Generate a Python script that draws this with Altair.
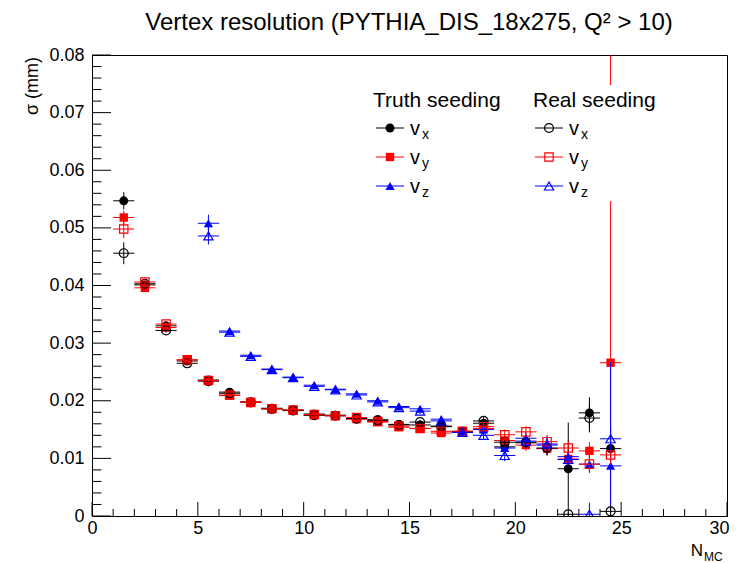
import altair as alt
import pandas as pd

FONT = "Liberation Sans"

# ---------------- data ----------------
n_mc = [1.5, 2.5, 3.5, 4.5, 5.5, 6.5, 7.5, 8.5, 9.5, 10.5, 11.5, 12.5,
        13.5, 14.5, 15.5, 16.5, 17.5, 18.5, 19.5, 20.5, 21.5, 22.5, 23.5, 24.5]
n_mc_z = [5.5, 6.5, 7.5, 8.5, 9.5, 10.5, 11.5, 12.5, 13.5, 14.5,
          15.5, 16.5, 17.5, 18.5, 19.5, 20.5, 21.5, 22.5, 23.5, 24.5]

truth_vx = [0.0547, 0.0401, 0.0330, 0.0269, 0.0236, 0.0215, 0.0198, 0.0187, 0.0184, 0.0177, 0.0175, 0.0170,
            0.0167, 0.0159, 0.0158, 0.0155, 0.0147, 0.0161, 0.0120, 0.0127, 0.0117, 0.0082, 0.0179, 0.0117]
truth_vx_err = [0.0015, 0.0005, 0.0004, 0.0003, 0.0003, 0.0003, 0.0003, 0.0003, 0.0003, 0.0003, 0.0003, 0.0003,
                0.0004, 0.0004, 0.0004, 0.0005, 0.0006, 0.0007, 0.0009, 0.0010, 0.0012, 0.0080, 0.0027, 0.0015]

truth_vy = [0.0518, 0.0396, 0.0327, 0.0271, 0.0235, 0.0209, 0.0198, 0.0186, 0.0183, 0.0175, 0.0174, 0.0168,
            0.0163, 0.0154, 0.0152, 0.0144, 0.0145, 0.0152, 0.0131, 0.0123, 0.0117, 0.0099, 0.0113, 0.0266]
truth_vy_err = [0.0012, 0.0005, 0.0004, 0.0003, 0.0003, 0.0003, 0.0003, 0.0003, 0.0003, 0.0003, 0.0003, 0.0003,
                0.0004, 0.0004, 0.0004, 0.0005, 0.0006, 0.0007, 0.0009, 0.0010, 0.0012, 0.0012, 0.0015, 0.0600]

truth_vz = [0.0508, 0.0321, 0.0279, 0.0255, 0.0241, 0.0227, 0.0220, 0.0212, 0.0200, 0.0190,
            0.0186, 0.0168, 0.0146, 0.0150, 0.0118, 0.0135, 0.0123, 0.0103, 0.0090, 0.0087]
truth_vz_err = [0.0015, 0.0005, 0.0004, 0.0004, 0.0004, 0.0004, 0.0004, 0.0004, 0.0004, 0.0005,
                0.0005, 0.0006, 0.0007, 0.0008, 0.0010, 0.0011, 0.0013, 0.0012, 0.0015, 0.0180]

real_vx = [0.0456, 0.0403, 0.0322, 0.0265, 0.0234, 0.0213, 0.0197, 0.0186, 0.0183, 0.0175, 0.0174, 0.0169,
           0.0166, 0.0158, 0.0163, 0.0156, 0.0146, 0.0165, 0.0128, 0.0128, 0.0118, 0.0003, 0.0170, 0.0008]
real_vx_err = [0.0019, 0.0005, 0.0004, 0.0003, 0.0003, 0.0003, 0.0003, 0.0003, 0.0003, 0.0003, 0.0003, 0.0003,
               0.0004, 0.0004, 0.0004, 0.0005, 0.0006, 0.0007, 0.0009, 0.0010, 0.0012, 0.0003, 0.0025, 0.0010]

real_vy = [0.0498, 0.0406, 0.0333, 0.0271, 0.0235, 0.0210, 0.0197, 0.0186, 0.0184, 0.0176, 0.0174, 0.0171,
           0.0164, 0.0156, 0.0152, 0.0147, 0.0147, 0.0155, 0.0141, 0.0146, 0.0129, 0.0118, 0.0090, 0.0106]
real_vy_err = [0.0016, 0.0005, 0.0004, 0.0003, 0.0003, 0.0003, 0.0003, 0.0003, 0.0003, 0.0003, 0.0003, 0.0003,
               0.0004, 0.0004, 0.0004, 0.0005, 0.0006, 0.0007, 0.0009, 0.0010, 0.0012, 0.0012, 0.0015, 0.0015]

real_vz = [0.0486, 0.0319, 0.0277, 0.0254, 0.0240, 0.0225, 0.0219, 0.0210, 0.0198, 0.0188,
           0.0182, 0.0165, 0.0145, 0.0140, 0.0105, 0.0130, 0.0125, 0.0098, 0.0003, 0.0134]
real_vz_err = [0.0015, 0.0005, 0.0004, 0.0004, 0.0004, 0.0004, 0.0004, 0.0004, 0.0004, 0.0005,
               0.0005, 0.0006, 0.0007, 0.0008, 0.0010, 0.0011, 0.0013, 0.0012, 0.0020, 0.0020]

y_major = [0, 0.01, 0.02, 0.03, 0.04, 0.05, 0.06, 0.07, 0.08]
y_minor = [0.002, 0.004, 0.006, 0.008, 0.012, 0.014, 0.016, 0.018, 0.022, 0.024, 0.026, 0.028,
           0.032, 0.034, 0.036, 0.038, 0.042, 0.044, 0.046, 0.048, 0.052, 0.054, 0.056, 0.058,
           0.062, 0.064, 0.066, 0.068, 0.072, 0.074, 0.076, 0.078]
x_major = [0, 5, 10, 15, 20, 25, 30]
x_minor = [1, 2, 3, 4, 6, 7, 8, 9, 11, 12, 13, 14, 16, 17, 18, 19, 21, 22, 23, 24, 26, 27, 28, 29]

title_text = "Vertex resolution (PYTHIA_DIS_18x275, Q\u00b2 > 10)"

W, H = 635, 461

xscale = alt.Scale(domain=[0, 30], nice=False, zero=False)
yscale = alt.Scale(domain=[0, 0.08], nice=False, zero=False)

yaxis = alt.Axis(values=y_major, ticks=False, grid=False, title=None, domainColor="black",
                 labelFont=FONT, labelFontSize=18, labelColor="black", labelPadding=8,
                 labelFlush=False,
                 labelExpr="datum.value == 0 ? '0' : format(datum.value, '.2f')")
xaxis = alt.Axis(values=x_major, ticks=False, grid=False, title=None, domainColor="black",
                 labelFont=FONT, labelFontSize=18, labelColor="black", labelPadding=3,
                 labelFlush=False, format="d",
                 labelOffset={"condition": {"test": "datum.value == 30", "value": -8}, "value": 0})


def X(f):
    return alt.X(f, scale=xscale, axis=xaxis)


def Y(f):
    return alt.Y(f, scale=yscale, axis=yaxis)


def frame(xs, ys, es):
    return pd.DataFrame({
        "x": xs, "y": ys,
        "xlo": [v - 0.5 for v in xs], "xhi": [v + 0.5 for v in xs],
        "ylo": [a - b for a, b in zip(ys, es)], "yhi": [a + b for a, b in zip(ys, es)],
    })


series = [
    (frame(n_mc, truth_vx, truth_vx_err), "black", "circle", 80, True),
    (frame(n_mc, truth_vy, truth_vy_err), "#ff0000", "square", 70, True),
    (frame(n_mc_z, truth_vz, truth_vz_err), "#0000ff", "triangle-up", 85, True),
    (frame(n_mc, real_vx, real_vx_err), "black", "circle", 80, False),
    (frame(n_mc, real_vy, real_vy_err), "#ff0000", "square", 70, False),
    (frame(n_mc_z, real_vz, real_vz_err), "#0000ff", "triangle-up", 85, False),
]

layers = []

# inward ticks
layers.append(alt.Chart(pd.DataFrame({"v": y_major})).mark_rule(color="black", strokeWidth=1).encode(
    y=Y("v:Q"), x=alt.value(0), x2=alt.value(19)))
layers.append(alt.Chart(pd.DataFrame({"v": y_minor})).mark_rule(color="black", strokeWidth=1).encode(
    y=Y("v:Q"), x=alt.value(0), x2=alt.value(9.5)))
layers.append(alt.Chart(pd.DataFrame({"v": x_major})).mark_rule(color="black", strokeWidth=1).encode(
    x=X("v:Q"), y=alt.value(H), y2=alt.value(H - 14)))
layers.append(alt.Chart(pd.DataFrame({"v": x_minor})).mark_rule(color="black", strokeWidth=1).encode(
    x=X("v:Q"), y=alt.value(H), y2=alt.value(H - 7)))

for df, col, shp, sz, filled in series:
    base = alt.Chart(df)
    layers.append(base.mark_rule(color=col, strokeWidth=1, clip=True).encode(
        x=X("xlo:Q"), x2="xhi:Q", y=Y("y:Q")))
    layers.append(base.mark_rule(color=col, strokeWidth=1, clip=True).encode(
        x=X("x:Q"), y=Y("ylo:Q"), y2="yhi:Q"))
    if filled:
        pm = base.mark_point(shape=shp, size=sz, filled=True, color=col, opacity=1, strokeWidth=0, clip=True)
    else:
        pm = base.mark_point(shape=shp, size=sz, filled=False, color=col, opacity=1, strokeWidth=1.2, clip=True)
    layers.append(pm.encode(x=X("x:Q"), y=Y("y:Q")))


def one():
    return alt.Chart(pd.DataFrame({"a": [0]}))


def text(t, x, y, size, align="left", angle=0):
    kw = dict(font=FONT, fontSize=size, align=align, baseline="alphabetic", color="black")
    if angle:
        kw["angle"] = angle
    return one().mark_text(**kw).encode(x=alt.value(x), y=alt.value(y), text=alt.value(t))


# legend box (white, covers what is behind it)
layers.append(one().mark_rect(color="white").encode(
    x=alt.value(270), x2=alt.value(585), y=alt.value(30), y2=alt.value(146)))
layers.append(text("Truth seeding", 281, 52, 21))
layers.append(text("Real seeding", 441, 52, 21))

leg_rows = [("x", 73, "circle", 80, "black"), ("y", 102, "square", 70, "#ff0000"),
            ("z", 131, "triangle-up", 85, "#0000ff")]
for sub, yy, shp, sz, col in leg_rows:
    for x0, filled in ((284, True), (443, False)):
        layers.append(one().mark_rule(color=col, strokeWidth=1).encode(
            x=alt.value(x0), x2=alt.value(x0 + 28), y=alt.value(yy)))
        if filled:
            pm = one().mark_point(shape=shp, size=sz, filled=True, color=col, opacity=1, strokeWidth=0)
        else:
            pm = one().mark_point(shape=shp, size=sz, filled=False, color=col, opacity=1, strokeWidth=1.2)
        layers.append(pm.encode(x=alt.value(x0 + 14), y=alt.value(yy)))
        layers.append(text("v", x0 + 34, yy + 7, 20))
        layers.append(text(sub, x0 + 46, yy + 11, 14))

# titles
layers.append(text(title_text, 317, -25, 24, align="center"))
layers.append(text("\u03c3 (mm)", -54, 2, 18, align="right", angle=270))
layers.append(text("N", 611, 501, 17, align="right"))
layers.append(text("MC", 612, 506, 12))

chart = alt.layer(*layers).properties(
    width=W, height=H,
    background="white",
    autosize=alt.AutoSizeParams(type="none"),
    padding={"left": 84, "top": 47, "right": 2, "bottom": 50},
).configure_view(stroke="black", strokeWidth=1)

chart.save("out.html", embed_options={"renderer": "svg", "actions": False})
